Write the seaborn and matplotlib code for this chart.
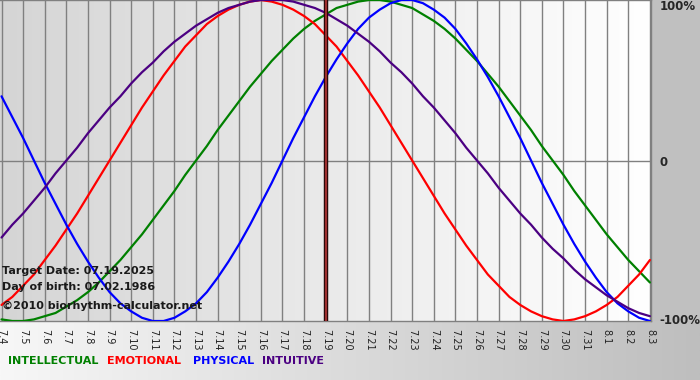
import numpy as np
import pandas as pd
import matplotlib
matplotlib.use("Agg")
import matplotlib.pyplot as plt
import seaborn as sns
from matplotlib.colors import LinearSegmentedColormap
from matplotlib.patches import Rectangle

# day labels 07.04.2025 .. 08.03.2025
day_labels = ["7.4", "7.5", "7.6", "7.7", "7.8", "7.9", "7.10", "7.11", "7.12",
              "7.13", "7.14", "7.15", "7.16", "7.17", "7.18", "7.19", "7.20",
              "7.21", "7.22", "7.23", "7.24", "7.25", "7.26", "7.27", "7.28",
              "7.29", "7.30", "7.31", "8.1", "8.2", "8.3"]

# cycle values every half day (-1 .. 1)
intellectual = [-0.99, -1.00, -1.00, -0.99, -0.97, -0.95, -0.91, -0.87, -0.82, -0.76,
                -0.69, -0.62, -0.54, -0.46, -0.37, -0.28, -0.19, -0.09, 0.00, 0.09,
                0.19, 0.28, 0.37, 0.46, 0.54, 0.62, 0.69, 0.76, 0.82, 0.87,
                0.91, 0.95, 0.97, 0.99, 1.00, 1.00, 0.99, 0.97, 0.95, 0.91,
                0.87, 0.82, 0.76, 0.69, 0.62, 0.54, 0.46, 0.37, 0.28, 0.19,
                0.09, 0.00, -0.09, -0.19, -0.28, -0.37, -0.46, -0.54, -0.62, -0.69,
                -0.76]
emotional = [-0.90, -0.85, -0.78, -0.71, -0.62, -0.53, -0.43, -0.33, -0.22, -0.11,
             0.00, 0.11, 0.22, 0.33, 0.43, 0.53, 0.62, 0.71, 0.78, 0.85,
             0.90, 0.94, 0.97, 0.99, 1.00, 0.99, 0.97, 0.94, 0.90, 0.85,
             0.78, 0.71, 0.62, 0.53, 0.43, 0.33, 0.22, 0.11, 0.00, -0.11,
             -0.22, -0.33, -0.43, -0.53, -0.62, -0.71, -0.78, -0.85, -0.90, -0.94,
             -0.97, -0.99, -1.00, -0.99, -0.97, -0.94, -0.90, -0.85, -0.78, -0.71,
             -0.62]
physical = [0.40, 0.27, 0.14, 0.00, -0.14, -0.27, -0.40, -0.52, -0.63, -0.73,
            -0.82, -0.89, -0.94, -0.98, -1.00, -1.00, -0.98, -0.94, -0.89, -0.82,
            -0.73, -0.63, -0.52, -0.40, -0.27, -0.14, 0.00, 0.14, 0.27, 0.40,
            0.52, 0.63, 0.73, 0.82, 0.89, 0.94, 0.98, 1.00, 1.00, 0.98,
            0.94, 0.89, 0.82, 0.73, 0.63, 0.52, 0.40, 0.27, 0.14, 0.00,
            -0.14, -0.27, -0.40, -0.52, -0.63, -0.73, -0.82, -0.89, -0.94, -0.98,
            -1.00]
intuitive = [-0.48, -0.40, -0.33, -0.25, -0.17, -0.08, 0.00, 0.08, 0.17, 0.25,
             0.33, 0.40, 0.48, 0.55, 0.61, 0.68, 0.74, 0.79, 0.84, 0.88,
             0.92, 0.95, 0.97, 0.99, 1.00, 1.00, 1.00, 0.99, 0.97, 0.95,
             0.92, 0.88, 0.84, 0.79, 0.74, 0.68, 0.61, 0.55, 0.48, 0.40,
             0.33, 0.25, 0.17, 0.08, 0.00, -0.08, -0.17, -0.25, -0.33, -0.40,
             -0.48, -0.55, -0.61, -0.68, -0.74, -0.79, -0.84, -0.88, -0.92, -0.95,
             -0.97]

target_index = 15  # 7.19
colors = {"INTELLECTUAL": "#008000", "EMOTIONAL": "#ff0000",
          "PHYSICAL": "#0000ff", "INTUITIVE": "#4b0082"}

days = np.arange(len(day_labels))
sample_day = np.arange(len(physical)) / 2
df = pd.DataFrame({
    "day": np.tile(sample_day, 4),
    "value": intellectual + emotional + physical + intuitive,
    "cycle": np.repeat(list(colors.keys()), len(sample_day)),
})

sns.set_style("white")
plt.rcParams["font.family"] = ["DejaVu Sans"]

W, H = 700, 380
fig = plt.figure(figsize=(7, 3.8), dpi=100)

# figure background: light to grey gradient, grey right margin
bg = fig.add_axes([0, 0, 1, 1], zorder=0)
bg.axis("off")
grad = np.linspace(0, 1, 256).reshape(1, -1)
bg.imshow(grad, cmap=LinearSegmentedColormap.from_list("bg", ["#f7f7f7", "#bebebe"]),
          aspect="auto", extent=[0, 1, 0, 1])
bg.add_patch(Rectangle((651 / W, 59 / H), 1, 1, color="#c0c0c0", lw=0))
bg.set_xlim(0, 1)
bg.set_ylim(0, 1)

ax = fig.add_axes([0, 59 / H, 651 / W, 321 / H], zorder=1)
x0, x1 = -0.07, 30.05
ax.imshow(grad, cmap=LinearSegmentedColormap.from_list("pl", ["#d5d5d5", "#ffffff"]),
          aspect="auto", extent=[x0, x1, -1, 1], zorder=0)

sns.lineplot(data=df, x="day", y="value", hue="cycle", palette=colors,
             linewidth=1.6, legend=False, ax=ax, zorder=4)

ax.axvline(target_index, color="#2a0808", lw=3.2, zorder=5)
ax.axvline(target_index, color="#a03030", lw=1.4, zorder=6)

ax.set_xlim(x0, x1)
ax.set_ylim(-1, 1)
ax.set_xticks(days)
ax.set_xticklabels(day_labels, rotation=-90, fontsize=7, color="#222222")
ax.tick_params(axis="x", length=4, width=1, color="#808080", pad=2)
ax.grid(axis="x", color="#808080", lw=1, zorder=1)
ax.axhline(0, color="#808080", lw=1, zorder=1)
ax.set_axisbelow(True)
ax.set_xlabel("")
ax.set_ylabel("")

ax.yaxis.tick_right()
ax.set_yticks([-1, 0, 1])
ax.set_yticklabels(["-100%", "0", "100%"], fontsize=8.5, fontweight="bold")
ax.tick_params(axis="y", length=0, pad=6)
ax.get_yticklabels()[2].set_va("top")
ax.get_yticklabels()[0].set_va("center")

for side in ["top", "bottom", "right"]:
    ax.spines[side].set_color("#808080")
    ax.spines[side].set_linewidth(1)
ax.spines["left"].set_visible(False)

info = [("Target Date: 07.19.2025", 271), ("Day of birth: 07.02.1986", 287),
        ("\u00a92010 biorhythm-calculator.net", 306)]
for txt, y in info:
    fig.text(2 / W, 1 - y / H, txt, fontsize=8, fontweight="bold",
             color="#1a1a1a", va="center", ha="left", zorder=10)

legend_x = [8, 107, 193, 262]
for (name, col), x in zip(colors.items(), legend_x):
    fig.text(x / W, 1 - 361 / H, name, fontsize=8, fontweight="bold",
             color=col, va="center", ha="left")

fig.savefig("out.png", dpi=100)
